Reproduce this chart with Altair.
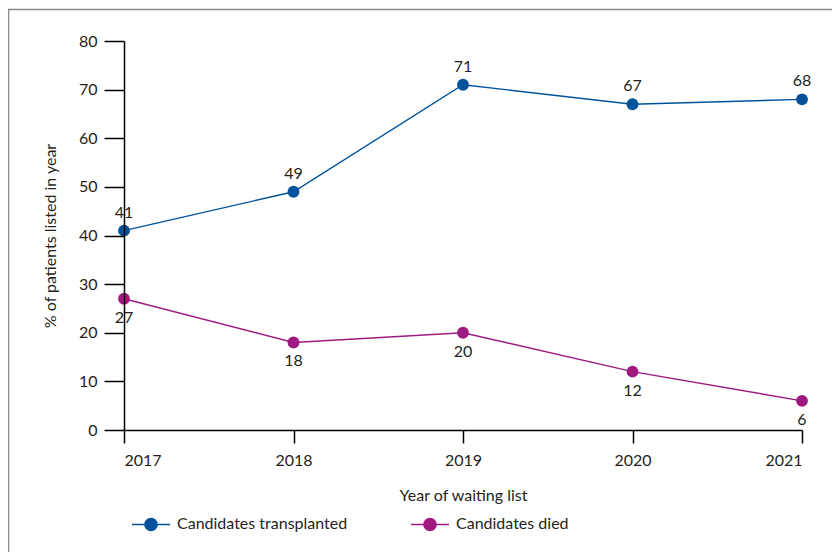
import altair as alt
import pandas as pd

years = [2017, 2018, 2019, 2020, 2021]
transplanted = [41, 49, 71, 67, 68]
died = [27, 18, 20, 12, 6]
series_names = ["Candidates transplanted", "Candidates died"]
series_colors = ["#00529b", "#9e1a80"]
y_ticks = [0, 10, 20, 30, 40, 50, 60, 70, 80]

rows = []
for y, v in zip(years, transplanted):
    rows.append({"year": y, "value": v, "series": series_names[0]})
for y, v in zip(years, died):
    rows.append({"year": y, "value": v, "series": series_names[1]})
df = pd.DataFrame(rows)

FONT = "Lato"
FS = 16
TXT = "#231f20"

legend_symbol = "M-1,0H1M-0.32,0A0.32,0.32,0,1,1,0.32,0A0.32,0.32,0,1,1,-0.32,0Z"
legend = alt.Legend(
    title=None, orient="none", legendX=7, legendY=463, direction="horizontal",
    symbolType=legend_symbol, symbolSize=1444, symbolStrokeWidth=1.5,
    labelFont=FONT, labelFontSize=FS, labelColor=TXT, labelOffset=6, labelLimit=400,
    columnPadding=60, padding=0,
)
cscale = alt.Scale(domain=series_names, range=series_colors)

x_enc = alt.X(
    "year:Q",
    scale=alt.Scale(domain=[2017, 2021], nice=False, zero=False),
    axis=alt.Axis(
        values=years, format="d", title="Year of waiting list", grid=False,
        tickSize=13, tickWidth=1.5, domainWidth=1.5, domainColor="black", tickColor="black",
        labelPadding=9, labelFontSize=FS, labelFont=FONT, labelColor=TXT,
        titleFont=FONT, titleFontSize=FS, titleFontWeight="normal", titleColor=TXT, titlePadding=19,
        zindex=1,
    ),
)
y_enc = alt.Y(
    "value:Q",
    scale=alt.Scale(domain=[0, 80], nice=False),
    axis=alt.Axis(
        values=y_ticks, title="% of patients listed in year", grid=False,
        tickSize=20, tickWidth=1.5, domainWidth=1.5, domainColor="black", tickColor="black",
        labelPadding=7, labelFontSize=FS, labelFont=FONT, labelColor=TXT,
        titleFont=FONT, titleFontSize=FS, titleFontWeight="normal", titleColor=TXT, titlePadding=20,
        zindex=1,
    ),
)

base = alt.Chart(df)

frame = alt.Chart(alt.Data(values=[{}])).mark_rect(
    fillOpacity=0, stroke="#8a8a8a", strokeWidth=1.5
).encode(
    x=alt.value(-115.5), x2=alt.value(900), y=alt.value(-31.5), y2=alt.value(700)
)

lines = base.mark_line(strokeWidth=1.4).encode(
    x=x_enc, y=y_enc,
    stroke=alt.Stroke("series:N", scale=cscale, legend=legend),
    detail="series:N",
)
points = base.mark_point(filled=True, size=140, opacity=1, strokeWidth=0).encode(
    x=x_enc, y=y_enc,
    fill=alt.Fill("series:N", scale=cscale, legend=legend),
    stroke=alt.Stroke("series:N", scale=cscale, legend=legend),
)
labels_top = base.transform_filter(alt.datum.series == series_names[0]).mark_text(
    dy=-18, font=FONT, fontSize=FS, color=TXT
).encode(x=x_enc, y=y_enc, text="value:Q")
labels_bot = base.transform_filter(alt.datum.series == series_names[1]).mark_text(
    dy=19, font=FONT, fontSize=FS, color=TXT
).encode(x=x_enc, y=y_enc, text="value:Q")

chart = alt.layer(frame, lines, points, labels_top, labels_bot).properties(
    width=678, height=389,
    autosize=alt.AutoSizeParams(type="none"),
    padding={"left": 116, "top": 33, "right": 30, "bottom": 122},
).configure_view(stroke=None)

chart.save("out.html", embed_options={"renderer": "svg", "actions": False})
